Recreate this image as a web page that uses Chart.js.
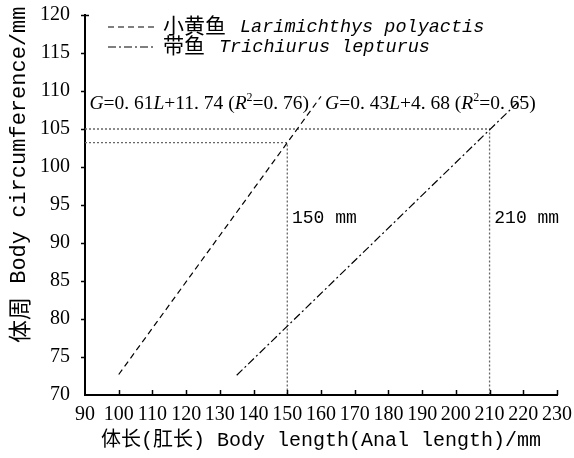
<!DOCTYPE html>
<html>
<head>
<meta charset="utf-8">
<script src="https://cdn.jsdelivr.net/npm/chart.js@4.4.1/dist/chart.umd.min.js"></script>
<style>
  html, body { margin: 0; padding: 0; background: #fff; }
  canvas { display: block; }
</style>
</head>
<body>
<canvas id="grafica" width="574" height="458"></canvas>
<script>
// ---- datos ----
const ejeX = { min: 90, max: 230, paso: 10 };
const ejeY = { min: 70, max: 120, paso: 5 };

// 小黄鱼 (línea discontinua)
const xiaoHuangX = [100, 160];
const xiaoHuangY = [72.7, 109.3];
// 带鱼 (línea de trazo y punto)
const daiYuX = [135, 220];
const daiYuY = [72.6, 109.2];

// líneas de referencia punteadas
const refXiaoX = [90, 150, 150];
const refXiaoY = [103.2, 103.2, 70];
const refDaiX = [90, 210, 210];
const refDaiY = [105, 105, 70];

const leyendas = ["小黄鱼", "带鱼"];
const especies = ["Larimichthys polyactis", "Trichiurus lepturus"];
const marcas = ["150 mm", "210 mm"];
const tituloX = "体长(肛长) Body length(Anal length)/mm";
const tituloY = "体周 Body circumference/mm";

const MONO = "'Liberation Mono', 'Noto Sans CJK SC', monospace";

function puntos(xs, ys) {
  return xs.map((x, i) => ({ x: x, y: ys[i] }));
}

// texto con tramos de distinta fuente
function textoMixto(ctx, partes, x, y) {
  ctx.textBaseline = 'middle';
  ctx.textAlign = 'left';
  partes.forEach(p => {
    ctx.font = p.f;
    ctx.fillText(p.t, x, y + (p.dy || 0));
    x += ctx.measureText(p.t).width + (p.gap || 0);
  });
  return x;
}

const extras = {
  id: 'extras',
  beforeDraw(chart) {
    const c = chart.ctx;
    c.save();
    c.fillStyle = '#fff';
    c.fillRect(0, 0, chart.width, chart.height);
    c.restore();
  },
  afterDraw(chart) {
    const c = chart.ctx;
    const sx = chart.scales.x, sy = chart.scales.y;
    const a = chart.chartArea;
    c.save();
    c.strokeStyle = '#000';
    c.lineWidth = 1.5;
    // marcas del eje x hacia dentro
    for (let v = ejeX.min + ejeX.paso; v <= ejeX.max; v += ejeX.paso) {
      const px = Math.round(sx.getPixelForValue(v)) + 0.5;
      c.beginPath(); c.moveTo(px, a.bottom); c.lineTo(px, a.bottom - 5); c.stroke();
    }
    // marcas del eje y hacia fuera
    for (let v = ejeY.min + ejeY.paso; v <= ejeY.max; v += ejeY.paso) {
      const py = Math.round(sy.getPixelForValue(v)) + 0.5;
      c.beginPath(); c.moveTo(a.left, py); c.lineTo(a.left - 4, py); c.stroke();
    }
    const pTop = Math.round(sy.getPixelForValue(ejeY.max)) + 0.5;
    c.beginPath(); c.moveTo(a.left, pTop); c.lineTo(a.left + 4, pTop); c.stroke();

    // título del eje y
    c.fillStyle = '#000';
    c.save();
    c.translate(19, 343);
    c.rotate(-Math.PI / 2);
    textoMixto(c, [
      { t: tituloY.slice(0, 2), f: "23px 'Noto Sans CJK SC'" },
      { t: tituloY.slice(2), f: "22px 'Liberation Mono'" }
    ], 0, 0);
    c.restore();

    // leyenda
    c.lineWidth = 1.2;
    const estilos = [[6, 4], [8, 3, 2, 3]];
    [27, 47].forEach((y, i) => {
      c.setLineDash(estilos[i]);
      c.beginPath(); c.moveTo(108, y); c.lineTo(155, y); c.stroke();
      c.setLineDash([]);
      textoMixto(c, [
        { t: leyendas[i], f: "21px 'Noto Sans CJK SC'", gap: 14, dy: -1.5 },
        { t: especies[i], f: "italic 18.5px 'Liberation Mono'" }
      ], 163, y);
    });

    // ecuaciones
    const eqY = sy.getPixelForValue(108.3);
    const N = "19.5px 'Liberation Serif'", I = "italic 19.5px 'Liberation Serif'";
    const ecuacion = (g1, g2, b1, b2, r, sep, x0) => textoMixto(c, [
      { t: 'G', f: I },
      { t: '=' + g1 + '. ' + g2, f: N },
      { t: 'L', f: I },
      { t: '+' + b1 + '. ' + b2 + sep + '(', f: N },
      { t: 'R', f: I },
      { t: '2', f: "12px 'Liberation Serif'", dy: -6 },
      { t: '=0. ' + r + ')', f: N }
    ], x0, eqY);
    ecuacion('0', '61', '11', '74', '76', ' ', sx.getPixelForValue(91.3));
    ecuacion('0', '43', '4', '68', '65', ' ', sx.getPixelForValue(161.2));

    // longitudes marcadas
    c.font = "18px 'Liberation Mono'";
    c.textAlign = 'left';
    c.textBaseline = 'middle';
    c.fillText(marcas[0], sx.getPixelForValue(151.4), sy.getPixelForValue(93.3));
    c.fillText(marcas[1], sx.getPixelForValue(211.4), sy.getPixelForValue(93.3));
    c.restore();
  }
};

const ctx = document.getElementById('grafica').getContext('2d');
new Chart(ctx, {
  type: 'line',
  data: {
    datasets: [
      { data: puntos(xiaoHuangX, xiaoHuangY), borderColor: '#000', borderWidth: 1.2, borderDash: [6, 4] },
      { data: puntos(daiYuX, daiYuY), borderColor: '#000', borderWidth: 1.2, borderDash: [8, 3, 2, 3] },
      { data: puntos(refXiaoX, refXiaoY), borderColor: '#666', borderWidth: 1.3, borderDash: [2, 2] },
      { data: puntos(refDaiX, refDaiY), borderColor: '#666', borderWidth: 1.3, borderDash: [2, 2] }
    ]
  },
  options: {
    responsive: false,
    animation: false,
    elements: { point: { radius: 0 }, line: { tension: 0 } },
    layout: { padding: { top: 15, right: 17, left: 0, bottom: 0 } },
    plugins: { legend: { display: false }, tooltip: { enabled: false } },
    scales: {
      x: {
        type: 'linear',
        min: ejeX.min, max: ejeX.max,
        ticks: { stepSize: ejeX.paso, color: '#000', padding: 0, maxRotation: 0, autoSkip: false,
                 font: { family: 'Liberation Serif', size: 20 } },
        grid: { display: false },
        border: { display: true, color: '#000', width: 2 },
        title: { display: true, text: tituloX, color: '#000', padding: { top: 2, bottom: 5 },
                 font: { family: MONO, size: 20 } },
        afterFit(s) { s.height = 63; s.paddingRight = 0; }
      },
      y: {
        type: 'linear',
        min: ejeY.min, max: ejeY.max,
        ticks: { stepSize: ejeY.paso, color: '#000', padding: 7,
                 font: { family: 'Liberation Serif', size: 20 } },
        grid: { display: false },
        border: { display: true, color: '#000', width: 2 },
        afterFit(s) { s.width = 85; s.paddingTop = 0; }
      }
    }
  },
  plugins: [extras]
});
</script>
</body>
</html>
